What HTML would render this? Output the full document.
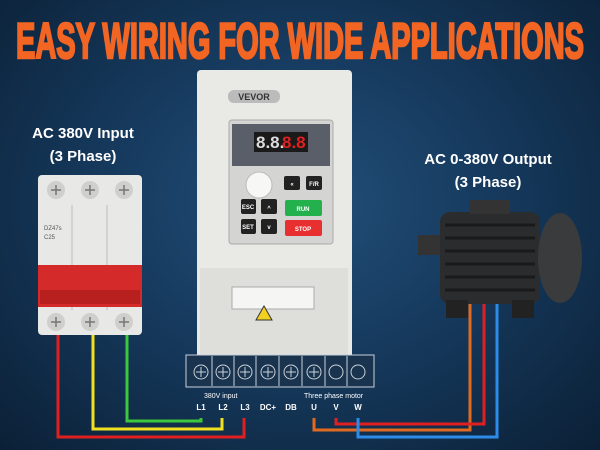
<!DOCTYPE html>
<html><head><style>
body{margin:0;width:600px;height:450px;overflow:hidden;font-family:"Liberation Sans",sans-serif}
.bg{position:absolute;inset:0;width:600px;height:450px;background:radial-gradient(ellipse at 50% 45%,#23507a 0%,#163a5e 45%,#0b2036 100%)}
.t{position:absolute;color:#fff;font-weight:bold;text-align:center}
</style></head><body>
<div class="bg"></div>
<div class="t" style="left:0;top:122px;width:166px;font-size:15px;line-height:23px">AC 380V Input<br>(3 Phase)</div>
<div class="t" style="left:400px;top:148px;width:176px;font-size:15px;line-height:23px">AC 0-380V Output<br>(3 Phase)</div>
<svg width="600" height="450" style="position:absolute;left:0;top:0" font-family="Liberation Sans, sans-serif">
<text x="16" y="58" font-size="50" font-weight="bold" fill="#f26522" stroke="#f26522" stroke-width="2.5" textLength="568" lengthAdjust="spacingAndGlyphs">EASY WIRING FOR WIDE APPLICATIONS</text>
<g fill="none" stroke-width="3">
<path d="M58 325V437H244V418" stroke="#e02020"/>
<path d="M93 325V429H222V418" stroke="#f0e020"/>
<path d="M127 325V421H201V418" stroke="#3cc83c"/>
<path d="M314 418V430H470V300" stroke="#e06a20"/>
<path d="M336 418V424H484V300" stroke="#e02020"/>
<path d="M358 418V437H497V300" stroke="#2c8ce8"/>
</g>
<rect x="38" y="175" width="104" height="160" rx="4" fill="#e8e8e6"/>
<g fill="#cfcfcc"><circle cx="56" cy="190" r="9"/><circle cx="90" cy="190" r="9"/><circle cx="124" cy="190" r="9"/>
<circle cx="56" cy="322" r="9"/><circle cx="90" cy="322" r="9"/><circle cx="124" cy="322" r="9"/></g>
<g stroke="#777" stroke-width="1.5"><path d="M51 190h10M56 185v10M85 190h10M90 185v10M119 190h10M124 185v10M51 322h10M56 317v10M85 322h10M90 317v10M119 322h10M124 317v10"/></g>
<path d="M72 205V310M107 205V310" stroke="#bbb"/>
<rect x="38" y="265" width="104" height="42" fill="#d42a2a"/>
<rect x="40" y="290" width="100" height="14" fill="#b81f1f"/>
<text x="44" y="230" font-size="6" fill="#555">DZ47s</text><text x="44" y="239" font-size="6" fill="#555">C25</text>
<rect x="197" y="70" width="155" height="288" rx="4" fill="#e9e9e6"/>
<rect x="200" y="268" width="148" height="88" fill="#dedfdb"/>
<rect x="232" y="287" width="82" height="22" fill="#f5f5f3" stroke="#aaa"/>
<path d="M256 320l8-14 8 14z" fill="#f2d020" stroke="#333"/>
<rect x="228" y="90" width="52" height="13" rx="6" fill="#bbb"/>
<text x="254" y="100" font-size="9" font-weight="bold" text-anchor="middle" fill="#333">VEVOR</text>
<rect x="229" y="120" width="104" height="124" rx="3" fill="#d4d4d2" stroke="#aaa"/>
<rect x="232" y="124" width="98" height="42" fill="#5a5e68"/>
<rect x="254" y="132" width="54" height="20" fill="#1a1a1a"/>
<text x="256" y="148" font-size="17" fill="#ddd" font-weight="bold">8.8.</text>
<text x="282" y="148" font-size="17" fill="#e02020" font-weight="bold">8.8</text>
<circle cx="259" cy="185" r="13" fill="#f7f7f5" stroke="#bbb"/>
<g fill="#222"><rect x="284" y="176" width="16" height="14" rx="2"/><rect x="306" y="176" width="16" height="14" rx="2"/>
<rect x="241" y="199" width="15" height="15" rx="2"/><rect x="261" y="199" width="16" height="15" rx="2"/>
<rect x="241" y="219" width="15" height="15" rx="2"/><rect x="261" y="219" width="16" height="15" rx="2"/></g>
<rect x="285" y="200" width="37" height="16" rx="2" fill="#22b14c"/>
<rect x="285" y="220" width="37" height="16" rx="2" fill="#e83030"/>
<g fill="#fff" font-size="6" text-anchor="middle" font-weight="bold">
<text x="292" y="186">«</text><text x="314" y="186">F/R</text><text x="248" y="209">ESC</text><text x="248" y="229">SET</text>
<text x="303" y="211">RUN</text><text x="303" y="231">STOP</text><text x="269" y="210">^</text><text x="269" y="229">v</text></g>
<rect x="186" y="355" width="188" height="32" fill="#1a3450" stroke="#c8d0d8"/>
<g fill="none" stroke="#c8d0d8" stroke-width="1">
<circle cx="201" cy="372" r="7"/><circle cx="223" cy="372" r="7"/><circle cx="245" cy="372" r="7"/><circle cx="268" cy="372" r="7"/>
<circle cx="291" cy="372" r="7"/><circle cx="314" cy="372" r="7"/><circle cx="336" cy="372" r="7"/><circle cx="358" cy="372" r="7"/>
<path d="M196 372h10M201 367v10M218 372h10M223 367v10M240 372h10M245 367v10M263 372h10M268 367v10M286 372h10M291 367v10M309 372h10M314 367v10"/>
<path d="M212 356v30M234 356v30M256 356v30M279 356v30M302 356v30M325 356v30M347 356v30"/></g>
<g fill="#fff" font-size="7"><text x="204" y="398">380V input</text><text x="304" y="398">Three phase motor</text></g>
<g fill="#fff" font-size="8" font-weight="bold" text-anchor="middle">
<text x="201" y="410">L1</text><text x="223" y="410">L2</text><text x="245" y="410">L3</text><text x="268" y="410">DC+</text>
<text x="291" y="410">DB</text><text x="314" y="410">U</text><text x="336" y="410">V</text><text x="358" y="410">W</text></g>
<rect x="418" y="235" width="22" height="20" fill="#333"/>
<rect x="440" y="212" width="100" height="92" rx="10" fill="#2b2c2e"/>
<g stroke="#1a1a1a" stroke-width="3"><path d="M445 225h90M445 238h90M445 251h90M445 264h90M445 277h90M445 290h90"/></g>
<ellipse cx="560" cy="258" rx="22" ry="45" fill="#3a3b3d"/>
<rect x="470" y="200" width="40" height="14" fill="#333"/>
<rect x="446" y="300" width="22" height="18" fill="#222"/><rect x="512" y="300" width="22" height="18" fill="#222"/>
</svg>
</body></html>
